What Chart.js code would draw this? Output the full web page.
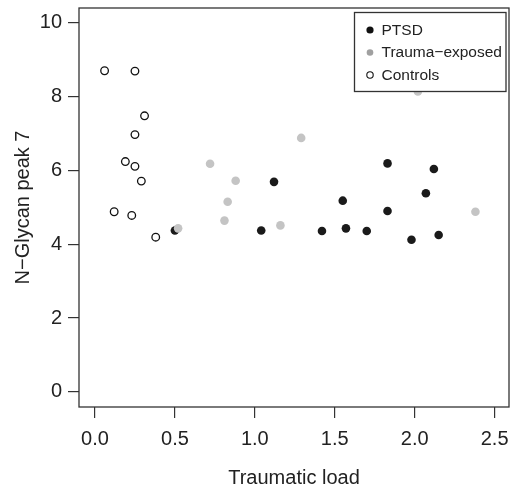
<!DOCTYPE html>
<html>
<head>
<meta charset="utf-8">
<script src="https://cdn.jsdelivr.net/npm/chart.js@4"></script>
<style>
  html, body { margin: 0; padding: 0; background: #fff; }
  canvas { display: block; }
</style>
</head>
<body>
<canvas id="graficoGlycan" width="512" height="489"></canvas>
<script>
// data
const grupos = ["PTSD", "Trauma\u2212exposed", "Controls"];

const ptsdX = [0.50, 1.04, 1.12, 1.42, 1.55, 1.57, 1.70, 1.83, 1.83, 1.98, 2.07, 2.12, 2.15];
const ptsdY = [4.37, 4.37, 5.69, 4.36, 5.18, 4.43, 4.36, 6.19, 4.90, 4.12, 5.38, 6.04, 4.25];

const traumaX = [0.52, 0.72, 0.81, 0.83, 0.88, 1.16, 1.29, 2.02, 2.38];
const traumaY = [4.43, 6.18, 4.64, 5.15, 5.72, 4.51, 6.88, 8.14, 4.88];

const controlX = [0.06, 0.12, 0.19, 0.23, 0.25, 0.25, 0.25, 0.29, 0.31, 0.38];
const controlY = [8.70, 4.88, 6.24, 4.78, 8.69, 6.97, 6.11, 5.71, 7.48, 4.19];

const ticksX = [0, 0.5, 1, 1.5, 2, 2.5];
const ticksY = [0, 2, 4, 6, 8, 10];

const fuente = "'Liberation Sans', Arial, Helvetica, sans-serif";
const puntos = (xs, ys) => xs.map((x, i) => ({ x: x, y: ys[i] }));

// box around the plot + R style legend
const cajaR = {
    id: "cajaR",
    afterDraw(chart) {
        const { ctx, chartArea: a } = chart;
        ctx.save();
        ctx.strokeStyle = "#333";
        ctx.lineWidth = 1.3;
        ctx.strokeRect(a.left, a.top, a.right - a.left, a.bottom - a.top);

        // legend
        ctx.fillStyle = "#fff";
        ctx.fillRect(354.5, 12.5, 151.5, 79);
        ctx.strokeRect(354.5, 12.5, 151.5, 79);
        const estilos = [
            { fill: "#111", stroke: null, r: 3.6 },
            { fill: "#a0a0a0", stroke: null, r: 3.3 },
            { fill: "#fff", stroke: "#111", r: 3.2 },
        ];
        ctx.font = "15.5px " + fuente;
        ctx.textBaseline = "middle";
        ctx.textAlign = "left";
        grupos.forEach((g, i) => {
            const y = 30 + i * 22.5;
            const e = estilos[i];
            ctx.beginPath();
            ctx.arc(370, y, e.r, 0, Math.PI * 2);
            ctx.fillStyle = e.fill;
            ctx.fill();
            if (e.stroke) {
                ctx.lineWidth = 1.1;
                ctx.strokeStyle = e.stroke;
                ctx.stroke();
            }
            ctx.fillStyle = "#222";
            ctx.fillText(g, 381.5, y + 0.5);
        });
        ctx.restore();
    },
};

const dataGlycan = {
    datasets: [
        {
            label: grupos[0],
            data: puntos(ptsdX, ptsdY),
            backgroundColor: "#1a1a1a",
            borderWidth: 0,
            pointRadius: 4.3,
            order: 3,
        },
        {
            label: grupos[1],
            data: puntos(traumaX, traumaY),
            backgroundColor: "#c4c4c4",
            borderWidth: 0,
            pointRadius: 4.3,
            order: 2,
        },
        {
            label: grupos[2],
            data: puntos(controlX, controlY),
            backgroundColor: "#fff",
            borderColor: "#111",
            borderWidth: 1.3,
            pointRadius: 3.8,
            order: 1,
        },
    ],
};

const configGlycan = {
    type: "scatter",
    data: dataGlycan,
    options: {
        responsive: false,
        animation: false,
        layout: { autoPadding: false, padding: { top: 8, right: 3, left: 0, bottom: 0 } },
        plugins: {
            legend: { display: false },
            tooltip: { enabled: false },
        },
        scales: {
            x: {
                type: "linear",
                min: -0.1,
                max: 2.59,
                afterBuildTicks: (s) => { s.ticks = ticksX.map((v) => ({ value: v })); },
                afterFit: (s) => { s.height = 82; s.paddingLeft = 0; s.paddingRight = 0; },
                border: { display: false },
                grid: { drawOnChartArea: false, drawTicks: true, tickLength: 11, color: "#333", lineWidth: 1.2 },
                ticks: {
                    padding: 9,
                    color: "#222",
                    maxRotation: 0,
                    font: { family: fuente, size: 20 },
                    callback: (v) => Number(v).toFixed(1),
                },
                title: {
                    display: true,
                    text: "Traumatic load",
                    color: "#222",
                    font: { family: fuente, size: 20, lineHeight: 1 },
                    padding: { top: 0, bottom: 1 },
                },
            },
            y: {
                type: "linear",
                min: -0.41,
                max: 10.4,
                afterBuildTicks: (s) => { s.ticks = ticksY.map((v) => ({ value: v })); },
                afterFit: (s) => { s.width = 79; s.paddingTop = 0; s.paddingBottom = 0; },
                border: { display: false },
                grid: { drawOnChartArea: false, drawTicks: true, tickLength: 11, color: "#333", lineWidth: 1.2 },
                ticks: {
                    padding: 6,
                    color: "#222",
                    font: { family: fuente, size: 20 },
                    callback: (v) => String(v),
                },
                title: {
                    display: true,
                    text: "N\u2212Glycan peak 7",
                    color: "#222",
                    font: { family: fuente, size: 20, lineHeight: 1 },
                    padding: { top: 13, bottom: 0 },
                },
            },
        },
    },
    plugins: [cajaR],
};

const chartGlycan = new Chart(document.getElementById("graficoGlycan"), configGlycan);
</script>
</body>
</html>
